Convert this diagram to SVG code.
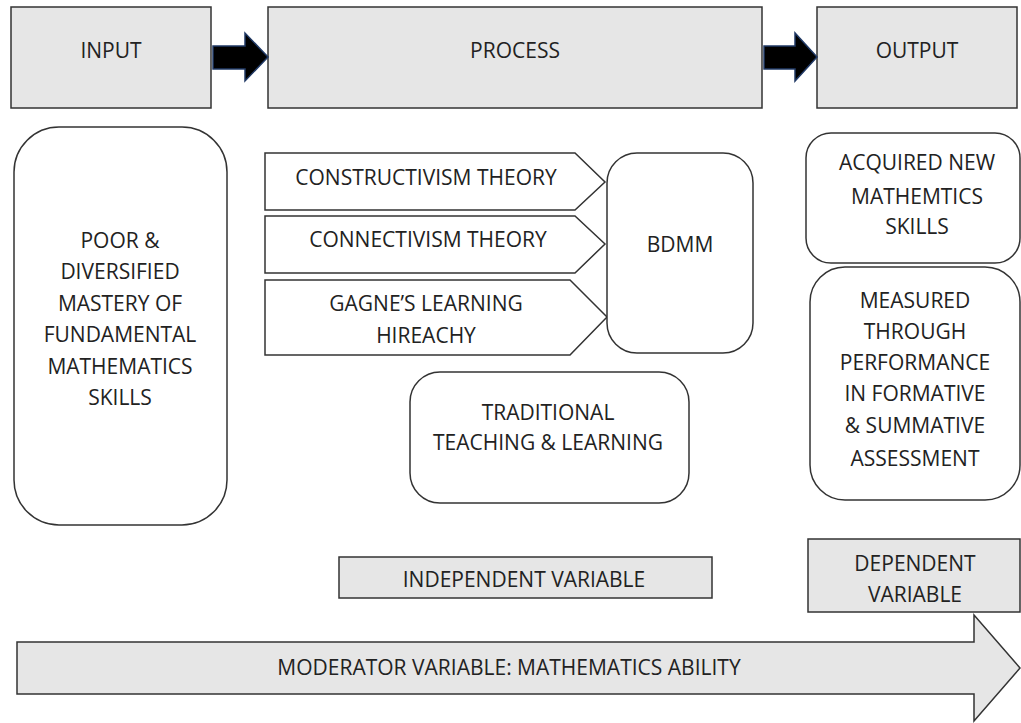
<svg xmlns="http://www.w3.org/2000/svg" width="1021" height="723" viewBox="0 0 1021 723">
  <style>
    .box { fill: #e6e6e6; stroke: #333; stroke-width: 1.5; }
    .plain { fill: #fff; stroke: #333; stroke-width: 1.5; }
    .flow { fill: #000; stroke: #1f3864; stroke-width: 1.5; }
    text { font-family: "Open Sans", Lato, "Liberation Sans", sans-serif; font-size: 21px; fill: #222; text-anchor: middle; dominant-baseline: central; }
  </style>
  <rect width="1021" height="723" fill="#fff"/>

  <!-- stage headers -->
  <g id="input">
    <rect class="box" x="11" y="7" width="200" height="101"/>
    <text x="111" y="50">INPUT</text>
  </g>
  <g id="process">
    <rect class="box" x="268" y="7" width="494" height="101"/>
    <text x="515" y="50">PROCESS</text>
  </g>
  <g id="output">
    <rect class="box" x="817" y="7" width="200" height="101"/>
    <text x="917" y="50">OUTPUT</text>
  </g>

  <!-- block arrows between stages -->
  <g id="connectors">
    <polygon class="flow" points="213,46 245,46 245,33 268,57 245,81 245,69 213,69"/>
    <polygon class="flow" points="764,46 795,46 795,33 817,57 795,81 795,69 764,69"/>
  </g>

  <!-- input content -->
  <g id="input-state">
    <rect class="plain" x="14" y="127" width="213" height="398" rx="45" ry="45"/>
    <text x="120" y="240">POOR &amp;</text>
    <text x="120" y="271">DIVERSIFIED</text>
    <text x="120" y="303">MASTERY OF</text>
    <text x="120" y="334">FUNDAMENTAL</text>
    <text x="120" y="366">MATHEMATICS</text>
    <text x="120" y="397">SKILLS</text>
  </g>

  <!-- theories feeding the model -->
  <g id="constructivism">
    <polygon class="plain" points="265,153 575,153 605,182 575,210 265,210"/>
    <text x="426" y="177">CONSTRUCTIVISM THEORY</text>
  </g>
  <g id="connectivism">
    <polygon class="plain" points="265,216 575,216 605,244 575,273 265,273"/>
    <text x="428" y="239">CONNECTIVISM THEORY</text>
  </g>
  <g id="gagne">
    <polygon class="plain" points="265,280 570,280 607,317 570,355 265,355"/>
    <text x="426" y="303">GAGNE’S LEARNING</text>
    <text x="426" y="335">HIREACHY</text>
  </g>
  <g id="bdmm">
    <rect class="plain" x="607" y="153" width="146" height="200" rx="30" ry="30"/>
    <text x="680" y="244">BDMM</text>
  </g>
  <g id="traditional">
    <rect class="plain" x="410" y="372" width="279" height="131" rx="30" ry="30"/>
    <text x="548" y="412">TRADITIONAL</text>
    <text x="548" y="442">TEACHING &amp; LEARNING</text>
  </g>

  <!-- outcomes -->
  <g id="acquired">
    <rect class="plain" x="806" y="133" width="214" height="130" rx="25" ry="25"/>
    <text x="917" y="162">ACQUIRED NEW</text>
    <text x="917" y="196">MATHEMTICS</text>
    <text x="917" y="226">SKILLS</text>
  </g>
  <g id="measured">
    <rect class="plain" x="810" y="267" width="210" height="233" rx="35" ry="35"/>
    <text x="915" y="300">MEASURED</text>
    <text x="915" y="331">THROUGH</text>
    <text x="915" y="362">PERFORMANCE</text>
    <text x="915" y="393">IN FORMATIVE</text>
    <text x="915" y="425">&amp; SUMMATIVE</text>
    <text x="915" y="458">ASSESSMENT</text>
  </g>

  <!-- variable labels -->
  <g id="independent">
    <rect class="box" x="339" y="557" width="373" height="41"/>
    <text x="524" y="579">INDEPENDENT VARIABLE</text>
  </g>
  <g id="dependent">
    <rect class="box" x="808" y="539" width="212" height="73"/>
    <text x="915" y="563">DEPENDENT</text>
    <text x="915" y="594">VARIABLE</text>
  </g>
  <g id="moderator">
    <polygon class="box" points="17,642 974,642 974,615 1020,668 974,721 974,694 17,694"/>
    <text x="509" y="667">MODERATOR VARIABLE: MATHEMATICS ABILITY</text>
  </g>
</svg>
